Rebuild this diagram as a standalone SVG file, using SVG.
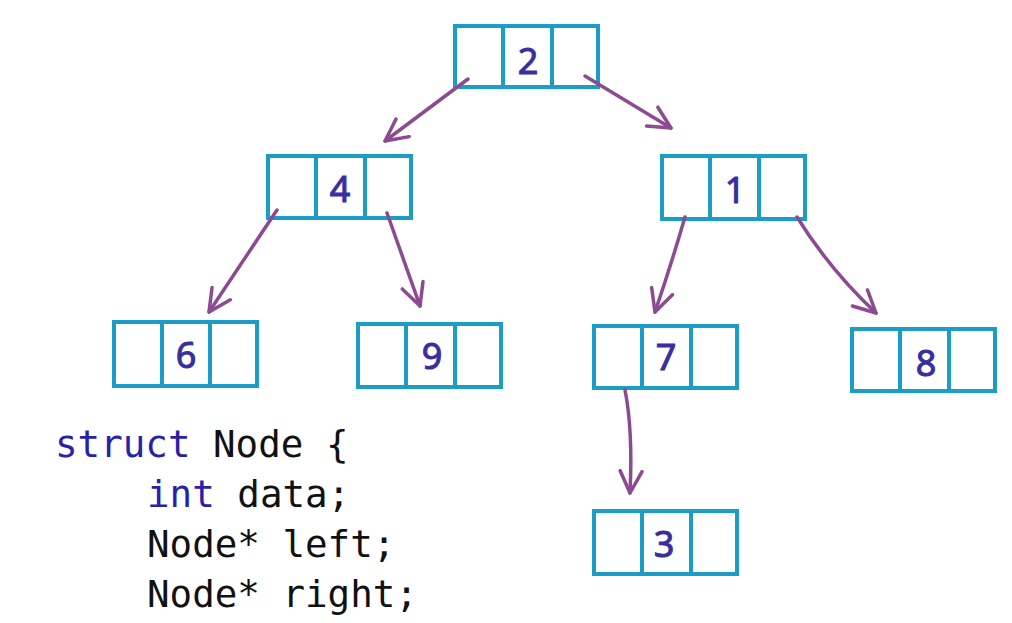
<svg xmlns="http://www.w3.org/2000/svg" width="1012" height="623" viewBox="0 0 1012 623">
  <style>
    .cell { fill: #ffffff; stroke: #1b9dc6; stroke-width: 4; }
    .val { font-family: "Noto Sans", "DejaVu Sans", sans-serif; font-size: 36px; fill: #3a2e9e; stroke: #3a2e9e; stroke-width: 1; text-anchor: middle; }
    .edge { fill: none; stroke: #8c4a93; stroke-width: 3.5; stroke-linecap: round; }
    .code { font-family: "DejaVu Sans Mono", "Liberation Mono", monospace; font-size: 37.5px; fill: #111111; }
    .kw { fill: #2a1fa8; }
  </style>
  <defs>
    <marker id="head" viewBox="-24 -14 28 28" markerWidth="28" markerHeight="28" refX="0" refY="0" orient="auto" markerUnits="userSpaceOnUse">
      <path d="M -22 -11 L 0 0 L -22 11" fill="none" stroke="#8c4a93" stroke-width="3.5" stroke-linecap="round" stroke-linejoin="round"/>
    </marker>
  </defs>
  <rect width="1012" height="623" fill="#ffffff"/>

  <g id="node-2">
    <rect class="cell" x="455" y="26" width="48" height="61"/>
    <rect class="cell" x="503" y="26" width="49" height="61"/>
    <rect class="cell" x="552" y="26" width="46" height="61"/>
    <text class="val" x="528" y="74">2</text>
  </g>
  <g id="node-4">
    <rect class="cell" x="268" y="156" width="48" height="62"/>
    <rect class="cell" x="316" y="156" width="49" height="62"/>
    <rect class="cell" x="365" y="156" width="46" height="62"/>
    <text class="val" x="340" y="202">4</text>
  </g>
  <g id="node-1">
    <rect class="cell" x="662" y="156" width="48" height="63"/>
    <rect class="cell" x="710" y="156" width="49" height="63"/>
    <rect class="cell" x="759" y="156" width="46" height="63"/>
    <text class="val" x="735" y="203">1</text>
  </g>
  <g id="node-6">
    <rect class="cell" x="114" y="322" width="48" height="64"/>
    <rect class="cell" x="162" y="322" width="48" height="64"/>
    <rect class="cell" x="210" y="322" width="47" height="64"/>
    <text class="val" x="186" y="368">6</text>
  </g>
  <g id="node-9">
    <rect class="cell" x="358" y="324" width="48" height="63"/>
    <rect class="cell" x="406" y="324" width="49" height="63"/>
    <rect class="cell" x="455" y="324" width="46" height="63"/>
    <text class="val" x="432" y="369">9</text>
  </g>
  <g id="node-7">
    <rect class="cell" x="594" y="326" width="48" height="62"/>
    <rect class="cell" x="642" y="326" width="49" height="62"/>
    <rect class="cell" x="691" y="326" width="46" height="62"/>
    <text class="val" x="666" y="370">7</text>
  </g>
  <g id="node-8">
    <rect class="cell" x="852" y="329" width="48" height="62"/>
    <rect class="cell" x="900" y="329" width="49" height="62"/>
    <rect class="cell" x="949" y="329" width="46" height="62"/>
    <text class="val" x="926" y="376">8</text>
  </g>
  <g id="node-3">
    <rect class="cell" x="594" y="511" width="48" height="63"/>
    <rect class="cell" x="642" y="511" width="49" height="63"/>
    <rect class="cell" x="691" y="511" width="46" height="63"/>
    <text class="val" x="664" y="557">3</text>
  </g>

  <!-- pointer arrows, drawn on top so they start inside the pointer cells -->
  <g id="connectors">
    <path class="edge" d="M 468 79 L 385 141" marker-end="url(#head)"/>
    <path class="edge" d="M 585 76 L 671 128" marker-end="url(#head)"/>
    <path class="edge" d="M 277 210 L 209 312" marker-end="url(#head)"/>
    <path class="edge" d="M 387 213 L 420 306" marker-end="url(#head)"/>
    <path class="edge" d="M 685 217 Q 672 262 655 312" marker-end="url(#head)"/>
    <path class="edge" d="M 797 217 Q 830 270 876 313" marker-end="url(#head)"/>
    <path class="edge" d="M 625 390 Q 633 430 630 493" marker-end="url(#head)"/>
  </g>

  <g id="code">
    <text class="code" x="55" y="457"><tspan class="kw">struct</tspan> Node {</text>
    <text class="code" x="147" y="507"><tspan class="kw">int</tspan> data;</text>
    <text class="code" x="147" y="557">Node* left;</text>
    <text class="code" x="147" y="607">Node* right;</text>
  </g>
</svg>
